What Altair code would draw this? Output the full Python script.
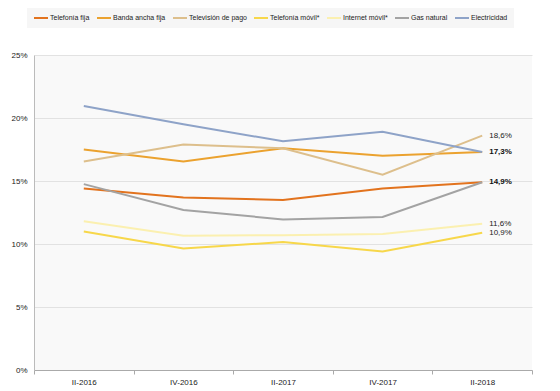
import altair as alt
import pandas as pd

periods = ["II-2016", "IV-2016", "II-2017", "IV-2017", "II-2018"]
series_names = ["Telefonía fija", "Banda ancha fija", "Televisión de pago",
                "Telefonía móvil*", "Internet móvil*", "Gas natural", "Electricidad"]
telefonia_fija = [14.4, 13.7, 13.5, 14.4, 14.9]
banda_ancha_fija = [17.5, 16.55, 17.6, 17.0, 17.3]
television_pago = [16.55, 17.9, 17.6, 15.5, 18.6]
telefonia_movil = [11.0, 9.65, 10.15, 9.4, 10.9]
internet_movil = [11.8, 10.65, 10.7, 10.8, 11.6]
gas_natural = [14.75, 12.7, 11.95, 12.15, 14.9]
electricidad = [20.95, 19.5, 18.15, 18.9, 17.3]
colors = ["#E2731E", "#EBA22F", "#DDBF8C", "#F7D74A", "#FBF0B0", "#A3A3A3", "#8EA3C8"]

label_values = [18.6, 17.3, 14.9, 11.6, 10.9]
label_texts = ["18,6%", "17,3%", "14,9%", "11,6%", "10,9%"]
label_bold = [False, True, True, False, False]

all_series = [telefonia_fija, banda_ancha_fija, television_pago, telefonia_movil,
              internet_movil, gas_natural, electricidad]
rows = []
for name, vals in zip(series_names, all_series):
    for p, v in zip(periods, vals):
        rows.append({"periodo": p, "serie": name, "valor": v / 100})
df = pd.DataFrame(rows)

lab = pd.DataFrame({"periodo": [periods[-1]] * len(label_values),
                    "valor": [v / 100 for v in label_values],
                    "txt": label_texts, "bold": label_bold})

font = "Liberation Sans"
xscale = alt.Scale(type="band", paddingInner=0, paddingOuter=0, domain=periods)
xenc = alt.X("periodo:N", sort=periods, bandPosition=0.5, title=None, scale=xscale,
             axis=alt.Axis(tickBand="extent", labelAngle=0, labelFontSize=8, labelFont=font,
                           labelColor="#222222", domainColor="#AAAAAA", tickColor="#AAAAAA",
                           tickSize=4, labelPadding=4, grid=False))
yenc = alt.Y("valor:Q", title=None,
             scale=alt.Scale(domain=[0, 0.25], nice=False),
             axis=alt.Axis(format=".0%", values=[0, 0.05, 0.1, 0.15, 0.2, 0.25],
                           labelFontSize=8, labelFont=font, labelColor="#222222",
                           domainColor="#BBBBBB", ticks=False, labelPadding=7,
                           gridColor="#E2E2E2", gridWidth=1))

lines = alt.Chart(df).mark_line(strokeWidth=2).encode(
    x=xenc, y=yenc,
    color=alt.Color("serie:N", sort=series_names,
                    scale=alt.Scale(domain=series_names, range=colors),
                    legend=alt.Legend(title=None, orient="none", direction="horizontal",
                                      columns=7, legendX=-7, legendY=-51,
                                      symbolType="stroke", symbolSize=196, symbolStrokeWidth=2,
                                      labelFont=font, labelFontSize=7, labelColor="#222222",
                                      labelOffset=1, columnPadding=3, padding=6,
                                      fillColor="#F6F6F6")),
)

tx = alt.X("periodo:N", sort=periods, bandPosition=0.5, scale=xscale)
normal_txt = alt.Chart(lab).transform_filter("!datum.bold").mark_text(
    align="left", baseline="middle", dx=7, fontSize=8, font=font, color="#222222"
).encode(x=tx, y=alt.Y("valor:Q"), text="txt:N")
bold_txt = alt.Chart(lab).transform_filter("datum.bold").mark_text(
    align="left", baseline="middle", dx=7, fontSize=8, font=font, color="#111111",
    fontWeight="bold"
).encode(x=tx, y=alt.Y("valor:Q"), text="txt:N")

chart = alt.layer(lines, normal_txt, bold_txt).properties(
    width=498, height=315, background="white",
    padding={"left": 26, "top": 47, "right": 20, "bottom": 20},
    autosize=alt.AutoSizeParams(type="none"),
).configure_view(fill="#F9F9F9", stroke=None)

chart.save("out.html", embed_options={"renderer": "svg", "actions": False})
